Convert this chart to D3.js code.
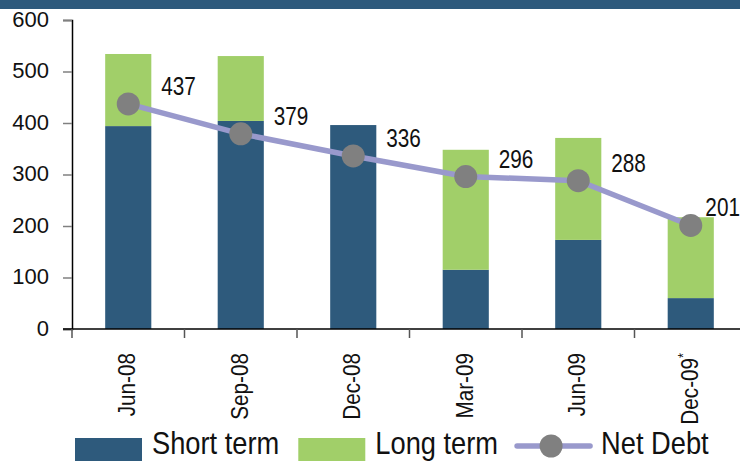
<!DOCTYPE html>
<html>
<head>
<meta charset="utf-8">
<script src="https://cdn.jsdelivr.net/npm/d3@7"></script>
<style>
  body { margin: 0; background: #fff; }
  svg { display: block; }
</style>
</head>
<body>
<script>
var width = 740;
var height = 461;

// data
var categories = ["Jun-08", "Sep-08", "Dec-08", "Mar-09", "Jun-09", "Dec-09"];
var shortTerm = [394, 404, 396, 115, 173, 60];
var longTerm = [140, 126, 0, 233, 198, 157];
var netDebt = [437, 379, 336, 296, 288, 201];
var yTicks = [0, 100, 200, 300, 400, 500, 600];

var darkBlue = "#2e5a7c";
var green = "#a1cf69";
var lineColor = "#9999cc";
var markerColor = "#808080";
var font = "'Liberation Sans', Arial, sans-serif";

var svg = d3.select("body")
  .append("svg")
  .attr("width", width)
  .attr("height", height);

// banner strip on top
svg.append("rect")
  .attr("x", 0).attr("y", 0)
  .attr("width", width).attr("height", 9)
  .attr("fill", darkBlue);

var x = d3.scaleBand()
  .domain(categories)
  .range([72, 747]);

var y = d3.scaleLinear()
  .domain([0, 600])
  .range([329, 20]);

var barW = x.bandwidth() * 0.41;
function cx(c) { return x(c) + x.bandwidth() / 2; }

var rows = categories.map(function(c, i) {
  return { cat: c, s: shortTerm[i], l: longTerm[i], n: netDebt[i] };
});

// bars
var bars = svg.append("g");
bars.selectAll(".short")
  .data(rows)
  .enter().append("rect")
    .attr("x", function(d) { return cx(d.cat) - barW / 2; })
    .attr("y", function(d) { return y(d.s); })
    .attr("width", barW)
    .attr("height", function(d) { return y(0) - y(d.s); })
    .attr("fill", darkBlue);

bars.selectAll(".long")
  .data(rows.filter(function(d) { return d.l > 0; }))
  .enter().append("rect")
    .attr("x", function(d) { return cx(d.cat) - barW / 2; })
    .attr("y", function(d) { return y(d.s + d.l); })
    .attr("width", barW)
    .attr("height", function(d) { return y(d.s) - y(d.s + d.l); })
    .attr("fill", green);

// y axis
var yAxis = svg.append("g")
  .attr("transform", "translate(72,0)")
  .call(d3.axisLeft(y).tickValues(yTicks).tickSize(9).tickPadding(14));
yAxis.select(".domain").attr("stroke", "#000").attr("stroke-width", 1.5);
yAxis.selectAll(".tick line").attr("stroke", "#808080").attr("stroke-width", 1.5);
yAxis.selectAll(".tick text")
  .attr("font-family", font)
  .attr("font-size", 22)
  .attr("fill", "#111")
  .attr("dy", "0.28em");

// x axis
var xAxis = svg.append("g")
  .attr("transform", "translate(0,329)");
xAxis.append("line")
  .attr("x1", 63).attr("x2", width)
  .attr("stroke", "#000").attr("stroke-width", 1.5);
xAxis.selectAll(".xt")
  .data(categories)
  .enter().append("line")
    .attr("x1", function(d) { return x(d); })
    .attr("x2", function(d) { return x(d); })
    .attr("y1", 0).attr("y2", 9)
    .attr("stroke", "#555").attr("stroke-width", 1.5);

var xLabels = xAxis.selectAll(".xl")
  .data(categories)
  .enter().append("text")
    .attr("transform", function(d) { return "translate(" + cx(d) + ",24) rotate(-90) scale(0.9,1)"; })
    .attr("dy", "0.3em")
    .attr("text-anchor", "end")
    .attr("font-family", font)
    .attr("font-size", 23)
    .attr("fill", "#111");
xLabels.append("tspan").text(function(d) { return d; });
xLabels.filter(function(d, i) { return i === categories.length - 1; })
  .append("tspan")
    .attr("font-size", 14)
    .attr("dy", "-0.7em")
    .text("*");

// net debt line
var line = d3.line()
  .x(function(d) { return cx(d.cat); })
  .y(function(d) { return y(d.n); });

svg.append("path")
  .datum(rows)
  .attr("d", line)
  .attr("fill", "none")
  .attr("stroke", lineColor)
  .attr("stroke-width", 5.5)
  .attr("stroke-linejoin", "round");

svg.selectAll(".marker")
  .data(rows)
  .enter().append("circle")
    .attr("cx", function(d) { return cx(d.cat); })
    .attr("cy", function(d) { return y(d.n); })
    .attr("r", 11.5)
    .attr("fill", markerColor);

var labelScale = 0.83;
svg.selectAll(".vlabel")
  .data(rows)
  .enter().append("text")
    .attr("font-family", font)
    .attr("font-size", 25)
    .attr("fill", "#111")
    .text(function(d) { return d.n; })
    .attr("transform", function(d) {
      var w = this.getComputedTextLength() * labelScale;
      var lx = Math.min(cx(d.cat) + 33, width - w);
      return "translate(" + lx + "," + (y(d.n) - 9) + ") scale(" + labelScale + ",1)";
    });

// legend
var legend = svg.append("g");
var lx = 75;
var legendScale = 0.88;

function legendText(label, at) {
  var t = legend.append("text")
    .attr("transform", "translate(" + at + ",454) scale(" + legendScale + ",1)")
    .attr("font-family", font)
    .attr("font-size", 31)
    .attr("fill", "#111")
    .text(label);
  return at + t.node().getComputedTextLength() * legendScale;
}

legend.append("rect")
  .attr("x", lx).attr("y", 438).attr("width", 67).attr("height", 23)
  .attr("fill", darkBlue);
lx = legendText("Short term", lx + 77) + 19;

legend.append("rect")
  .attr("x", lx).attr("y", 438).attr("width", 67).attr("height", 23)
  .attr("fill", green);
lx = legendText("Long term", lx + 77) + 19;

legend.append("line")
  .attr("x1", lx).attr("x2", lx + 73)
  .attr("y1", 446).attr("y2", 446)
  .attr("stroke", lineColor).attr("stroke-width", 5.5)
  .attr("stroke-linecap", "round");
legend.append("circle")
  .attr("cx", lx + 34).attr("cy", 446).attr("r", 11.5)
  .attr("fill", markerColor);
legendText("Net Debt", lx + 84);
</script>
</body>
</html>
